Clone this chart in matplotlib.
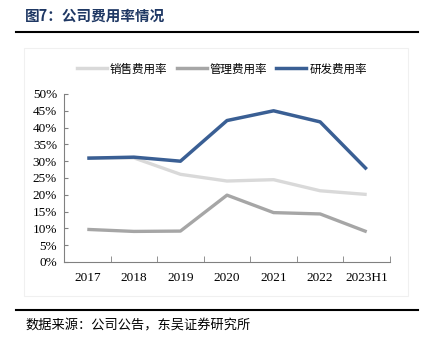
import matplotlib
matplotlib.use("Agg")
import matplotlib.pyplot as plt
from matplotlib.patches import Rectangle
from matplotlib.lines import Line2D

categories = ["2017", "2018", "2019", "2020", "2021", "2022", "2023H1"]
sales_rate = [31.0, 31.0, 26.1, 24.1, 24.5, 21.2, 20.1]
admin_rate = [9.7, 9.1, 9.2, 19.9, 14.7, 14.3, 9.0]
rd_rate = [30.9, 31.2, 30.0, 42.1, 45.0, 41.7, 27.6]
series_names = ["销售费用率", "管理费用率", "研发费用率"]
yticks = [0, 5, 10, 15, 20, 25, 30, 35, 40, 45, 50]

W, H = 426, 346
fig = plt.figure(figsize=(W / 100, H / 100), dpi=100)
fig.patch.set_facecolor("white")

cjk = ["Noto Sans CJK SC", "DejaVu Sans"]
serif = ["Liberation Serif", "DejaVu Serif"]

# Title and rules
fig.text(25 / W, 1 - 16 / H, "图7：公司费用率情况", family=cjk, fontsize=10.5,
         fontweight="bold", color="#1F3864", va="center", ha="left")
fig.add_artist(Line2D([16 / W, 418 / W], [1 - 31.5 / H, 1 - 31.5 / H],
                      color="black", lw=1.5, transform=fig.transFigure))
fig.add_artist(Line2D([16 / W, 418 / W], [1 - 310 / H, 1 - 310 / H],
                      color="black", lw=1.5, transform=fig.transFigure))
fig.text(25 / W, 1 - 326 / H, "数据来源：公司公告，东吴证券研究所", family=cjk,
         fontsize=9.5, color="black", va="center", ha="left")

# faint chart box
fig.add_artist(Rectangle((24 / W, 1 - 296 / H), (408 - 24) / W, (296 - 48) / H,
                         transform=fig.transFigure, fill=False,
                         edgecolor="#f0f0f0", lw=0.8))

ax = fig.add_axes([64 / W, 1 - 262 / H, (390 - 64) / W, (262 - 94) / H])
x = list(range(len(categories)))
ax.plot(x, sales_rate, color="#d9d9d9", lw=2.4, solid_capstyle="butt", zorder=2)
ax.plot(x, admin_rate, color="#a6a6a6", lw=2.4, solid_capstyle="butt", zorder=3)
ax.plot(x, rd_rate, color="#3A5F94", lw=2.5, solid_capstyle="butt", zorder=4)

ax.set_xlim(-0.5, len(categories) - 0.5)
ax.set_ylim(0, 50)
ax.set_yticks(yticks)
ax.set_yticklabels([f"{v}%" for v in yticks], family=serif, fontsize=9.5)
ax.set_xticks(x)
ax.set_xticklabels(categories, family=serif, fontsize=9.5)
ax.set_xticks([i + 0.5 for i in range(len(categories))], minor=True)
ax.tick_params(axis="x", which="major", length=0, pad=7)
ax.tick_params(axis="x", which="minor", length=4, direction="in", color="#808080")
ax.tick_params(axis="y", length=3, direction="in", color="#808080", pad=5)
for s in ["top", "right"]:
    ax.spines[s].set_visible(False)
for s in ["left", "bottom"]:
    ax.spines[s].set_color("#808080")
    ax.spines[s].set_linewidth(0.8)

handles = [Line2D([], [], color=c, lw=2.5) for c in ["#d9d9d9", "#a6a6a6", "#3A5F94"]]
fig.legend(handles, series_names, loc="center", bbox_to_anchor=(222 / W, 1 - 69 / H),
           ncol=3, frameon=False, prop={"family": cjk, "size": 8.3},
           handlelength=2.6, handletextpad=0.25, columnspacing=0.8,
           borderpad=0, borderaxespad=0)

fig.savefig("out.png", dpi=100, facecolor="white")
